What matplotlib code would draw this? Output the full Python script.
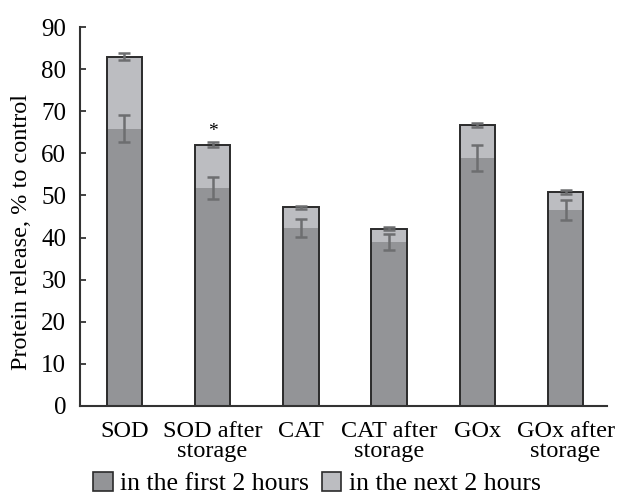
import numpy as np
import matplotlib.pyplot as plt

plt.rcParams.update({
    "font.family": "serif",
    "font.serif": ["Liberation Serif", "DejaVu Serif"],
})

categories = ["SOD", "SOD after\nstorage", "CAT", "CAT after\nstorage", "GOx", "GOx after\nstorage"]
first_2h = [65.9, 51.8, 42.3, 39.0, 58.9, 46.6]
first_err = [3.3, 2.6, 2.1, 1.9, 3.0, 2.4]
total_4h = [83.0, 62.1, 47.2, 42.1, 66.7, 50.8]
total_err = [0.9, 0.6, 0.3, 0.4, 0.5, 0.4]
star_idx = 1

dark = "#939497"
light = "#bcbdc1"
err_col = "#6d6e70"

x = np.arange(len(categories))
next_2h = np.array(total_4h) - np.array(first_2h)
w = 0.4

fig = plt.figure(figsize=(6.22, 4.96), dpi=100)
ax = fig.add_axes([0.129, 0.1815, 0.847, 0.764])

ax.bar(x, first_2h, w, color=dark, linewidth=0)
ax.bar(x, next_2h, w, bottom=first_2h, color=light, linewidth=0)
ax.bar(x, total_4h, w, fill=False, edgecolor="#2b2b2b", linewidth=1.4)

ax.errorbar(x, first_2h, yerr=first_err, fmt="none", ecolor=err_col,
            elinewidth=1.8, capsize=4, capthick=1.8)
ax.errorbar(x, total_4h, yerr=total_err, fmt="none", ecolor=err_col,
            elinewidth=1.8, capsize=4, capthick=1.8)

ax.text(x[star_idx], total_4h[star_idx] + 1.0, "*", ha="center", va="bottom", fontsize=14)

ax.set_ylim(0, 90)
ax.set_xlim(-0.5, 5.47)
ax.set_yticks(range(0, 91, 10))
ax.set_xticks(x)
ax.set_xticklabels(categories, fontsize=17.5, linespacing=0.95)
ax.tick_params(axis="x", length=0, pad=11)
ax.tick_params(axis="y", labelsize=18, direction="in", length=4, width=1.3,
               color="#333333", pad=10)
ax.set_ylabel("Protein release, % to control", fontsize=17.5)
ax.yaxis.set_label_coords(-0.092, 0.46)

for s in ["top", "right"]:
    ax.spines[s].set_visible(False)
for s in ["left", "bottom"]:
    ax.spines[s].set_color("#333333")
    ax.spines[s].set_linewidth(1.5)

h1 = plt.Rectangle((0, 0), 1, 1, facecolor=dark, edgecolor="#2b2b2b", linewidth=1.2)
h2 = plt.Rectangle((0, 0), 1, 1, facecolor=light, edgecolor="#2b2b2b", linewidth=1.2)
fig.legend([h1, h2], ["in the first 2 hours", "in the next 2 hours"],
           loc="lower center", bbox_to_anchor=(0.51, -0.045), ncol=2, frameon=False,
           fontsize=18.5, handlelength=0.75, handleheight=0.75, handletextpad=0.3,
           columnspacing=0.5)

fig.savefig("out.png", dpi=100)
